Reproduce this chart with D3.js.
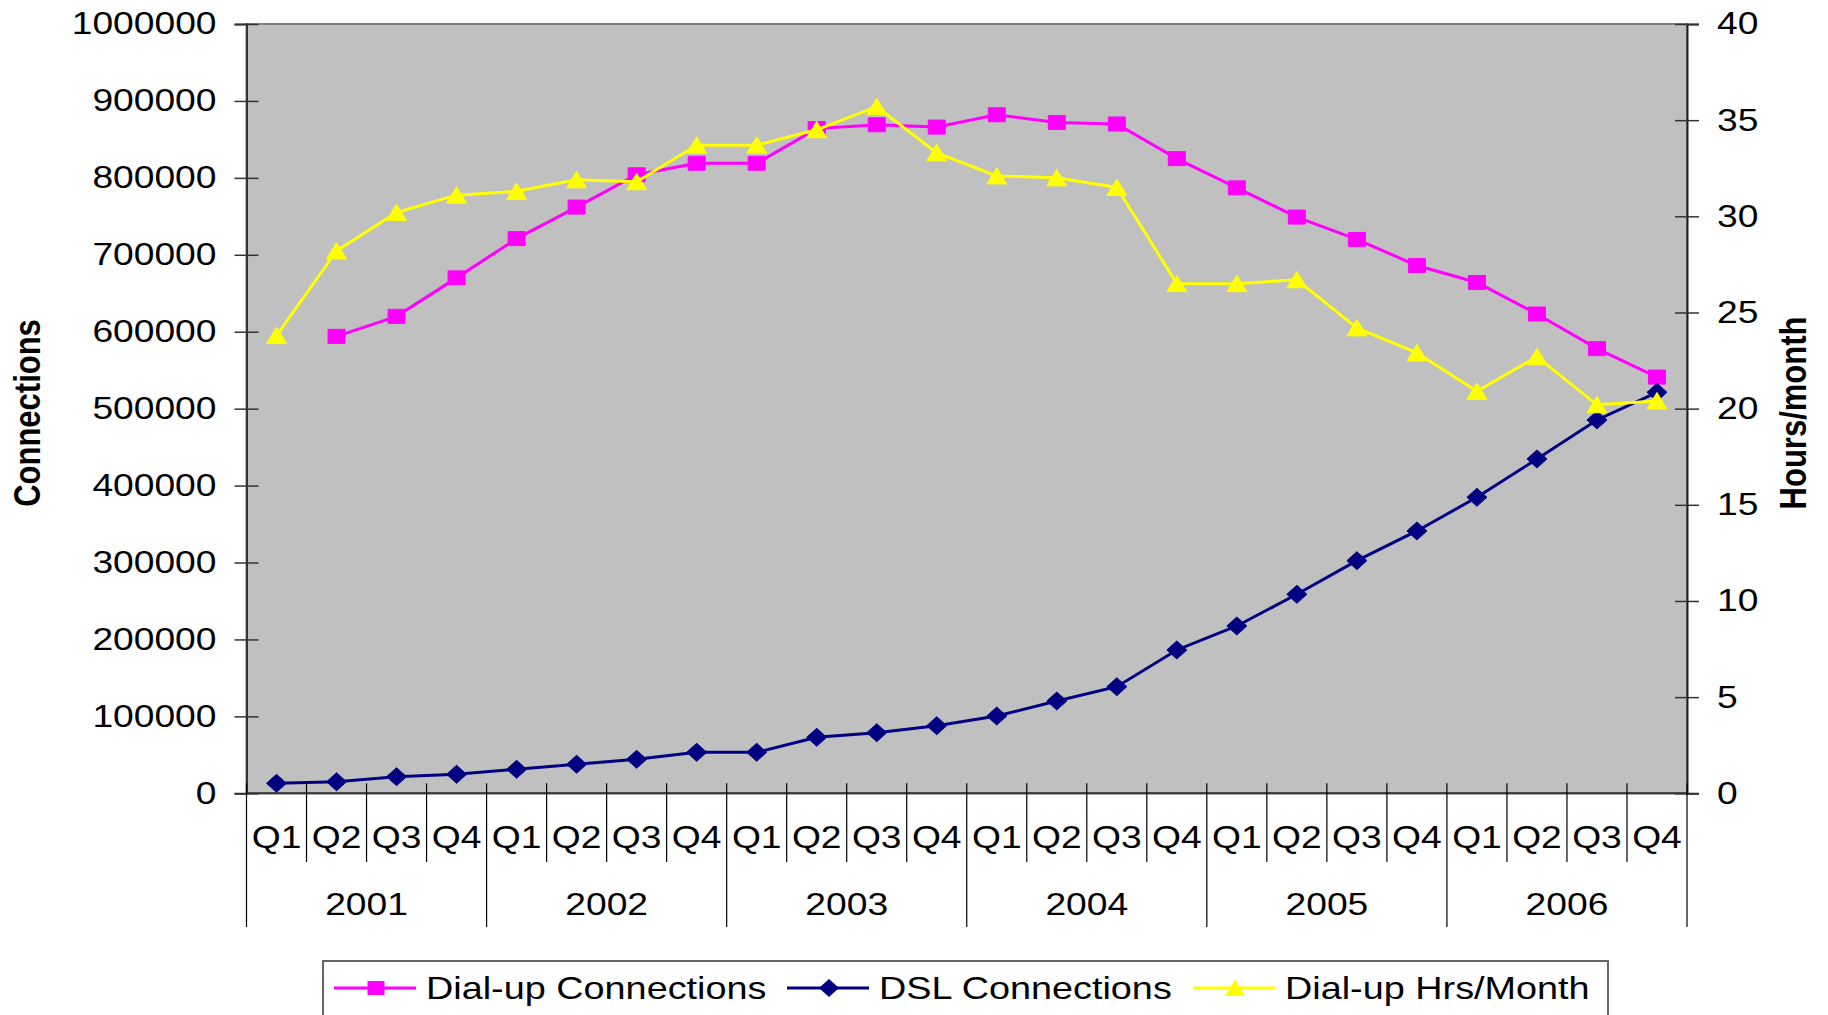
<!DOCTYPE html>
<html>
<head>
<meta charset="utf-8">
<script src="https://cdn.jsdelivr.net/npm/d3@7"></script>
<style>
  html, body { margin: 0; padding: 0; background: #fff; }
  svg { display: block; font-family: "Liberation Sans", Arial, sans-serif; }
</style>
</head>
<body>
<div id="chart"></div>
<script>

// ---------------------------------------------------------------------------
// Data
// ---------------------------------------------------------------------------

const years    = ['2001', '2002', '2003', '2004', '2005', '2006'];
const quarters = ['Q1', 'Q2', 'Q3', 'Q4'];

const dialup_connections = [
  null,   594000, 620000, 670000,
  721000, 762000, 804000, 819000,
  819000, 864000, 869000, 866000,
  882000, 872000, 870000, 825000,
  787000, 749000, 720000, 686000,
  664000, 623000, 578000, 541000
];

const dsl_connections = [
  13000,  15000,  21600,  24700,
  31200,  37700,  44200,  53300,
  53300,  72800,  78800,  87900,
  100500, 120000, 138600, 186300,
  217500, 258700, 302400, 341000,
  384800, 434600, 485300, 521200
];

const dialup_hours = [
  23.8, 28.2, 30.2, 31.1,
  31.3, 31.9, 31.8, 33.7,
  33.7, 34.5, 35.7, 33.3,
  32.1, 32.0, 31.5, 26.5,
  26.5, 26.7, 24.2, 22.9,
  20.9, 22.7, 20.2, 20.4
];

const left_ticks  = d3.range(0, 1000001, 100000);
const right_ticks = d3.range(0, 41, 5);

// ---------------------------------------------------------------------------
// SVG setup
// ---------------------------------------------------------------------------

const width  = 1828;
const height = 1015;
const plot   = { left: 246.5, right: 1687, top: 24, bottom: 793.3 };
const stretch = 1.2;   // the original is drawn slightly wide

const svg = d3.select('#chart').append('svg')
  .attr('viewBox', [0, 0, width, height])
  .attr('width', width)
  .attr('height', height);

const categories = years.flatMap(y => quarters.map(q => ({ year: y, quarter: q })));

const x = d3.scaleBand()
  .domain(d3.range(categories.length))
  .range([plot.left, plot.right])
  .paddingInner(0).paddingOuter(0);

const cx = i => x(i) + x.bandwidth() / 2;

const yLeft  = d3.scaleLinear().domain([0, 1000000]).range([plot.bottom, plot.top]);
const yRight = d3.scaleLinear().domain([0, 40]).range([plot.bottom, plot.top]);

const series = [
  { name: 'Dial-up Connections', values: dialup_connections, scale: yLeft,  color: '#ff00ff', shape: 'square' },
  { name: 'DSL Connections',     values: dsl_connections,    scale: yLeft,  color: '#000080', shape: 'diamond' },
  { name: 'Dial-up Hrs/Month',   values: dialup_hours,       scale: yRight, color: '#ffff00', shape: 'triangle' }
];

// marker outlines, centred on 0,0
const markerPath = {
  square:   'M-8.5,-7H8.5V7H-8.5Z',
  diamond:  'M0,-9L10,0L0,9L-10,0Z',
  triangle: 'M0,-8.5L10,8L-10,8Z'
};

// ---------------------------------------------------------------------------
// Plot area
// ---------------------------------------------------------------------------

svg.append('rect')
  .attr('x', plot.left).attr('y', plot.top)
  .attr('width', plot.right - plot.left)
  .attr('height', plot.bottom - plot.top)
  .attr('fill', '#c0c0c0')
  .attr('stroke', '#808080')
  .attr('stroke-width', 2);

// Left axis
const axisL = svg.append('g')
  .attr('transform', `translate(${plot.left},0)`)
  .call(d3.axisLeft(yLeft).tickValues(left_ticks).tickFormat(d3.format('d')).tickSize(12).tickPadding(0));

axisL.select('.domain').attr('stroke', '#333').attr('stroke-width', 2);
axisL.selectAll('.tick line').attr('x1', 12).attr('stroke', '#333').attr('stroke-width', 1.5);
axisL.selectAll('.tick text')
  .attr('x', -30 / stretch)
  .attr('transform', `scale(${stretch},1)`)
  .attr('font-size', 31)
  .attr('fill', '#000');

// Right axis
const axisR = svg.append('g')
  .attr('transform', `translate(${plot.right},0)`)
  .call(d3.axisRight(yRight).tickValues(right_ticks).tickSize(12).tickPadding(0));

axisR.select('.domain').attr('stroke', '#222').attr('stroke-width', 2);
axisR.selectAll('.tick line').attr('x1', -12).attr('stroke', '#333').attr('stroke-width', 1.5);
axisR.selectAll('.tick text')
  .attr('x', 30 / stretch)
  .attr('transform', `scale(${stretch},1)`)
  .attr('font-size', 31)
  .attr('fill', '#000');

// Category axis: zero line, dividers, quarter and year labels
svg.append('line')
  .attr('x1', plot.left).attr('x2', plot.right)
  .attr('y1', plot.bottom).attr('y2', plot.bottom)
  .attr('stroke', '#333').attr('stroke-width', 2);

const bounds = d3.range(categories.length + 1);

svg.append('g').selectAll('line')
  .data(bounds)
  .join('line')
  .attr('x1', i => i < categories.length ? x(i) : plot.right)
  .attr('x2', i => i < categories.length ? x(i) : plot.right)
  .attr('y1', plot.bottom - 10)
  .attr('y2', i => i % 4 === 0 ? 927 : 862)
  .attr('stroke', '#000')
  .attr('stroke-width', 1.2);

svg.append('g').selectAll('text')
  .data(categories)
  .join('text')
  .attr('transform', (d, i) => `translate(${cx(i)},848) scale(${stretch},1)`)
  .attr('text-anchor', 'middle')
  .attr('font-size', 31)
  .text(d => d.quarter);

svg.append('g').selectAll('text')
  .data(years)
  .join('text')
  .attr('transform', (d, j) => `translate(${(x(j * 4) + (j * 4 + 4 < categories.length ? x(j * 4 + 4) : plot.right)) / 2},915) scale(${stretch},1)`)
  .attr('text-anchor', 'middle')
  .attr('font-size', 31)
  .text(d => d);

// Axis titles
svg.append('text')
  .attr('transform', `translate(27,413) scale(${stretch},1) rotate(-90)`)
  .attr('text-anchor', 'middle')
  .attr('dy', '0.36em')
  .attr('font-size', 31)
  .attr('font-weight', 'bold')
  .text('Connections');

svg.append('text')
  .attr('transform', `translate(1793,413) scale(${stretch},1) rotate(-90)`)
  .attr('text-anchor', 'middle')
  .attr('dy', '0.36em')
  .attr('font-size', 31)
  .attr('font-weight', 'bold')
  .text('Hours/month');

// ---------------------------------------------------------------------------
// Series
// ---------------------------------------------------------------------------

series.forEach(s => {
  const g = svg.append('g').attr('data-series', s.name);

  const line = d3.line()
    .defined(d => d != null)
    .x((d, i) => cx(i))
    .y(d => s.scale(d));

  g.append('path')
    .datum(s.values)
    .attr('d', line)
    .attr('fill', 'none')
    .attr('stroke', s.color)
    .attr('stroke-width', 3);

  g.selectAll('path.marker')
    .data(s.values.map((v, i) => ({ v, i })).filter(d => d.v != null))
    .join('path')
    .attr('class', 'marker')
    .attr('d', markerPath[s.shape])
    .attr('transform', d => `translate(${cx(d.i)},${s.scale(d.v)})`)
    .attr('fill', s.color)
    .attr('stroke', s.color)
    .attr('stroke-width', 1);
});

// ---------------------------------------------------------------------------
// Legend
// ---------------------------------------------------------------------------

const legend = svg.append('g').attr('id', 'legend');

legend.append('rect')
  .attr('x', 323).attr('y', 961)
  .attr('width', 1285).attr('height', 80)
  .attr('fill', '#fff')
  .attr('stroke', '#666')
  .attr('stroke-width', 2);

const legendX = [334, 787, 1193];

const item = legend.selectAll('g.item')
  .data(series)
  .join('g')
  .attr('class', 'item')
  .attr('transform', (d, i) => `translate(${legendX[i]},988)`);

item.append('line')
  .attr('x1', 0).attr('x2', 82)
  .attr('stroke', d => d.color)
  .attr('stroke-width', 3);

item.append('path')
  .attr('d', d => markerPath[d.shape])
  .attr('transform', 'translate(42,0)')
  .attr('fill', d => d.color);

item.append('text')
  .attr('transform', `translate(92,5) scale(1.22,1)`)
  .attr('font-size', 31)
  .attr('dy', '0.2em')
  .text(d => d.name);

</script>
</body>
</html>
